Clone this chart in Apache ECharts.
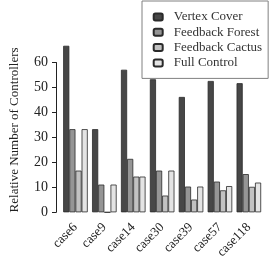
<!DOCTYPE html>
<html><head><meta charset="utf-8">
<script src="https://cdn.jsdelivr.net/npm/echarts@6/dist/echarts.min.js"></script>
<style>html,body{margin:0;padding:0;background:#fff}#c{width:269px;height:269px}</style>
</head><body><div id="c"></div>
<script>
const categories = ['case6','case9','case14','case30','case39','case57','case118'];
const vertexCover = [66.7, 33.3, 57.1, 53.3, 46.2, 52.6, 51.7];
const feedbackForest = [33.3, 11.1, 21.4, 16.7, 10.3, 12.3, 15.3];
const feedbackCactus = [16.7, 0, 14.3, 6.7, 5.1, 8.8, 10.2];
const fullControl = [33.3, 11.1, 14.3, 16.7, 10.3, 10.5, 11.9];
const yTicks = [0, 10, 20, 30, 40, 50, 60];

const font = 'Liberation Serif';
const names = ['Vertex Cover','Feedback Forest','Feedback Cactus','Full Control'];
const colors = ['#474747','#959595','#c2c2c2','#e4e4e4'];
const datas = [vertexCover, feedbackForest, feedbackCactus, fullControl];

const chart = echarts.init(document.getElementById('c'), null, {renderer:'canvas'});
chart.setOption({
  animation:false,
  backgroundColor:'#fff',
  grid:{left:59.8, right:5.7, top:62.5, bottom:56.7, containLabel:false},
  legend:{
    data:names, orient:'vertical', left:142, top:1,
    itemWidth:9, itemHeight:7, itemGap:2.3,
    padding:[9.5,6,9,10.7],
    borderColor:'#808080', borderWidth:1, backgroundColor:'#fff',
    textStyle:{fontFamily:font, fontSize:13, color:'#333', lineHeight:13, padding:[0,0,0,6]}
  },
  xAxis:{
    type:'category', data:categories,
    axisLine:{show:false}, axisTick:{show:false},
    axisLabel:{rotate:45, fontFamily:font, fontSize:13, color:'#222', margin:13, interval:0}
  },
  yAxis:{
    type:'value', min:yTicks[0], max:yTicks[yTicks.length-1], interval:10, offset:5,
    name:'Relative Number of Controllers', nameLocation:'middle', nameGap:35,
    nameTextStyle:{fontFamily:font, fontSize:13, color:'#222', padding:[0,0,0,15]},
    axisLine:{show:true, lineStyle:{color:'#222', width:1}},
    axisTick:{show:true, length:4, lineStyle:{color:'#222'}},
    splitLine:{show:false},
    axisLabel:{fontFamily:font, fontSize:14, color:'#222', margin:8}
  },
  series: names.map((n,i)=>({
    name:n, type:'bar', data:datas[i], clip:false,
    barGap:'0%', barCategoryGap:'15%',
    itemStyle:{color:colors[i], borderColor:'#2a2a2a', borderWidth:0.8}
  }))
});
</script></body></html>
